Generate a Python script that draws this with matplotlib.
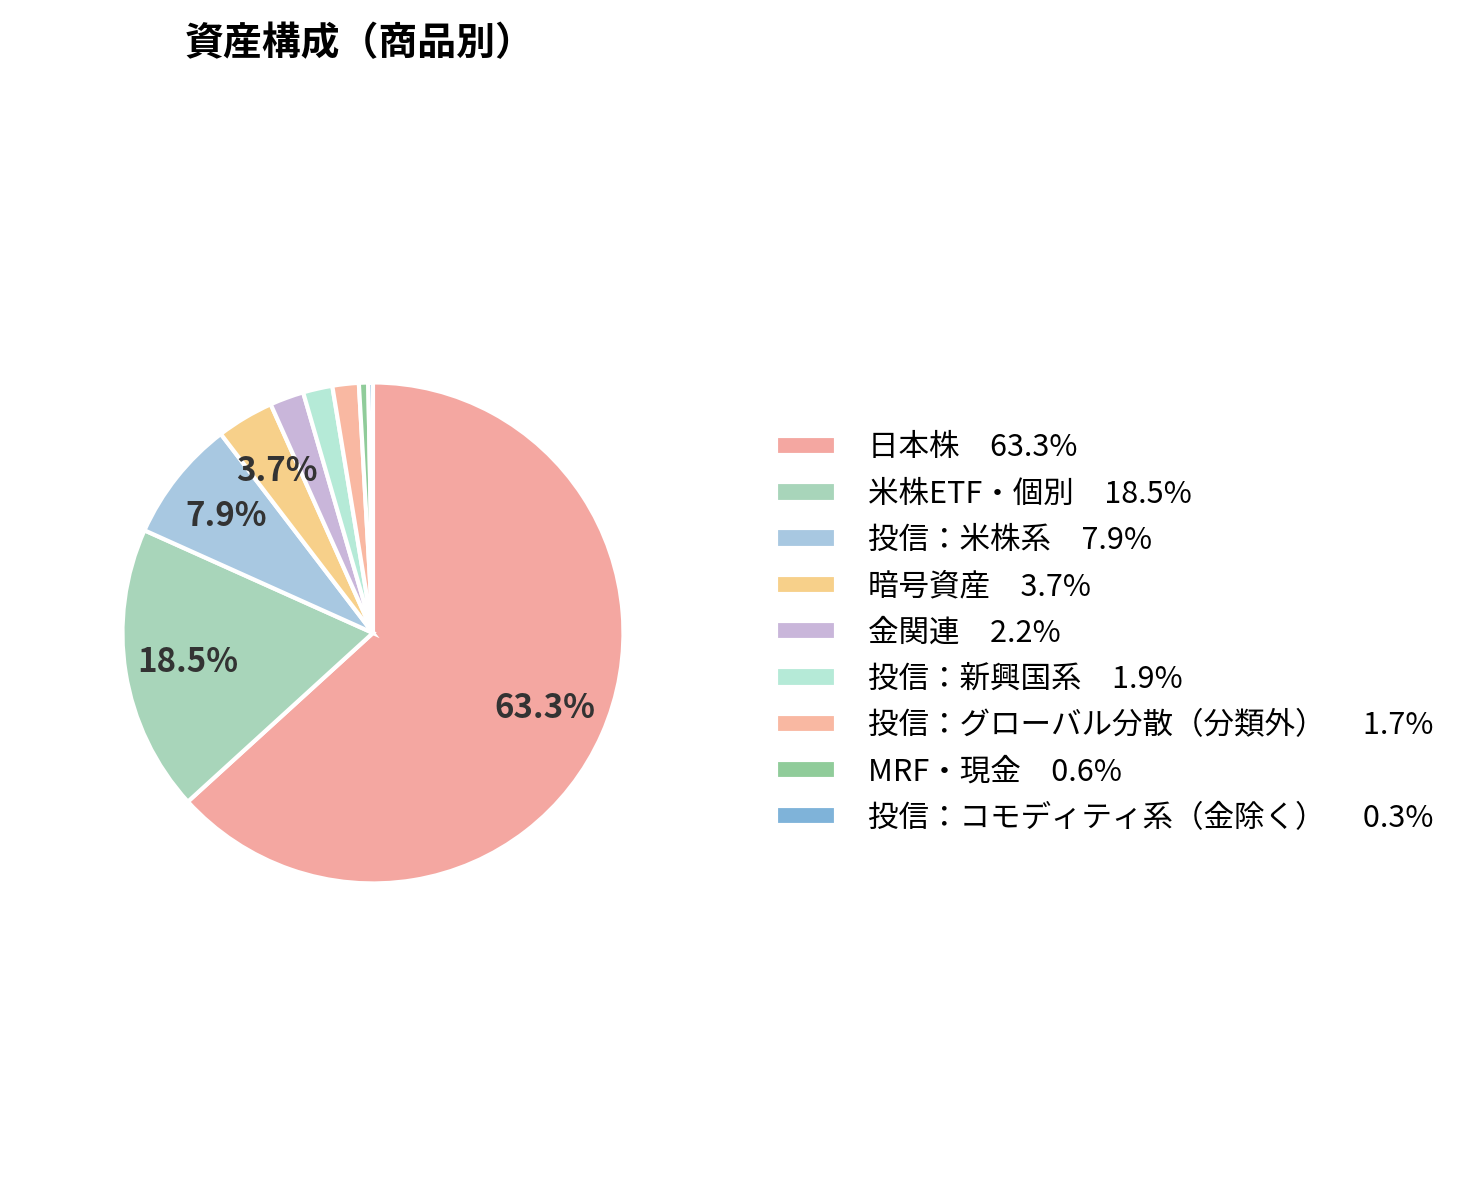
import matplotlib
matplotlib.use("Agg")
import matplotlib.pyplot as plt

plt.rcParams['font.family'] = ['Noto Sans CJK JP', 'DejaVu Sans']

categories = ["日本株", "米株ETF・個別", "投信：米株系", "暗号資産", "金関連", "投信：新興国系",
              "投信：グローバル分散（分類外）", "MRF・現金", "投信：コモディティ系（金除く）"]
values = [63.3, 18.5, 7.9, 3.7, 2.2, 1.9, 1.7, 0.6, 0.3]
colors = ["#F4A7A1", "#A8D5BA", "#A8C8E1", "#F7D08A", "#C9B6DA", "#B5EAD7", "#F9B8A2", "#90CC9A", "#7FB3D9"]

fig = plt.figure(figsize=(14.8, 11.8), dpi=100)
ax = fig.add_axes([0.252 - 0.171, 0.4636 - 0.2144, 0.342, 0.4288])
wedges, texts = ax.pie(
    values, colors=colors, startangle=90, counterclock=False,
    wedgeprops=dict(edgecolor="white", linewidth=3))
import numpy as np
total = sum(values)
ang = 90.0
for w, v in zip(wedges, values):
    mid = np.deg2rad((w.theta1 + w.theta2) / 2)
    if v > 3:
        ax.text(0.75 * np.cos(mid), 0.75 * np.sin(mid), f"{v:.1f}%", ha="center", va="center",
                fontsize=17 * 1.4, fontweight="bold", color="#333333")
ax.set_xlim(-1.01, 1.01); ax.set_ylim(-1.01, 1.01); ax.set_aspect("equal")

labels = []
for c, v in zip(categories, values):
    sep = "　 " if "（" in c else "　"
    labels.append(f"{c}{sep}{v:.1f}%")
fig.legend(wedges, labels, loc="center left", bbox_to_anchor=(0.506, 0.4636),
           frameon=False, fontsize=22, handlelength=1.95, handleheight=0.6,
           handletextpad=1.05, labelspacing=0.5)
fig.text(0.125, 0.963, "資産構成（商品別）", fontsize=28, fontweight="bold", va="center")
fig.savefig("out.png", dpi=100)
